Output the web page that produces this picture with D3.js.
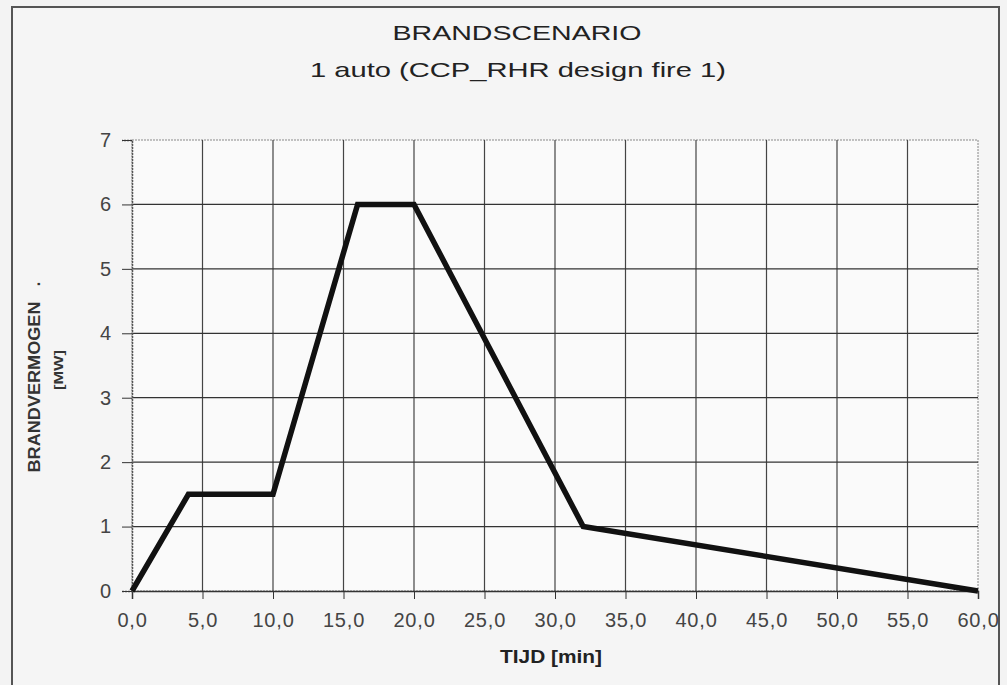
<!DOCTYPE html>
<html>
<head>
<meta charset="utf-8">
<script src="https://cdn.jsdelivr.net/npm/d3@7"></script>
<style>
    body { margin: 0; background: #f3f3f3; }
    text { font-family: "Liberation Sans", Arial, sans-serif; }
</style>
</head>
<body>
<div id="grafiek"></div>
<script>
// brandscenario: tijd [min] tegen brandvermogen [MW]
var tijd = [0, 4, 10, 16, 20, 32, 60];
var vermogen = [0, 1.5, 1.5, 6, 6, 1, 0];
var xTicks = [0, 5, 10, 15, 20, 25, 30, 35, 40, 45, 50, 55, 60];
var yTicks = [0, 1, 2, 3, 4, 5, 6, 7];

var data = tijd.map(function (t, i) {
    return {clave: t, valor: vermogen[i]};
});

var svg = d3.select("#grafiek").append("svg")
        .attr("width", 1007)
        .attr("height", 685);

var margin = {top: 140, right: 29, bottom: 94, left: 132};
var width = 1007 - margin.left - margin.right;
var height = 685 - margin.top - margin.bottom;

// kader om de hele grafiek
svg.append("rect")
        .attr("x", 12).attr("y", 7)
        .attr("width", 987).attr("height", 690)
        .attr("fill", "#f5f5f5")
        .attr("stroke", "#555")
        .attr("stroke-width", 2);

var g = svg.append("g").attr("transform", "translate(" + margin.left + "," + margin.top + ")");

var x = d3.scaleLinear().domain([0, 60]).range([0, width]);
var y = d3.scaleLinear().domain([0, 7]).range([height, 0]);

g.append("rect")
        .attr("width", width)
        .attr("height", height)
        .attr("fill", "#fafafa")
        .attr("stroke", "#888")
        .attr("stroke-dasharray", "2,1");

// rasterlijnen
g.append("g")
        .selectAll("line")
        .data(xTicks.slice(1, -1))
        .enter()
        .append("line")
        .attr("x1", function (d) { return x(d); })
        .attr("x2", function (d) { return x(d); })
        .attr("y1", 0)
        .attr("y2", height)
        .attr("stroke", "#444")
        .attr("stroke-width", 1.2);

g.append("g")
        .selectAll("line")
        .data(yTicks.slice(1, -1))
        .enter()
        .append("line")
        .attr("x1", 0)
        .attr("x2", width)
        .attr("y1", function (d) { return y(d); })
        .attr("y2", function (d) { return y(d); })
        .attr("stroke", "#333")
        .attr("stroke-width", 1.2);

// assen
var xAs = g.append("g")
        .attr("transform", "translate(0," + height + ")")
        .call(d3.axisBottom(x).tickValues(xTicks).tickSize(8).tickPadding(14)
                .tickFormat(function (d) { return d3.format(".1f")(d).replace(".", ","); }));
xAs.select(".domain").attr("stroke", "#333").attr("stroke-width", 1.5);
xAs.selectAll(".tick line").attr("stroke", "#333");
xAs.selectAll("text").attr("font-size", 20).attr("fill", "#444").attr("letter-spacing", 0.8);

var yAs = g.append("g")
        .call(d3.axisLeft(y).tickValues(yTicks).tickSize(10).tickPadding(11)
                .tickFormat(d3.format("d")));
yAs.select(".domain").attr("stroke", "#555").attr("stroke-width", 1.5).attr("stroke-dasharray", "2,1");
yAs.selectAll(".tick line").attr("stroke", "#333");
yAs.selectAll("text").attr("font-size", 20).attr("fill", "#444");

var line = d3.line()
        .x(function (d) { return x(d.clave); })
        .y(function (d) { return y(d.valor); });

g.append("path")
        .datum(data)
        .attr("fill", "none")
        .attr("stroke", "#111")
        .attr("stroke-width", 5.5)
        .attr("stroke-linejoin", "miter")
        .attr("d", line);

// titels
svg.append("text")
        .attr("x", 517).attr("y", 40)
        .attr("text-anchor", "middle")
        .attr("font-size", 21)
        .attr("fill", "#222")
        .attr("textLength", 249)
        .attr("lengthAdjust", "spacingAndGlyphs")
        .text("BRANDSCENARIO");
svg.append("text")
        .attr("x", 518).attr("y", 77)
        .attr("text-anchor", "middle")
        .attr("font-size", 21)
        .attr("fill", "#222")
        .attr("textLength", 416)
        .attr("lengthAdjust", "spacingAndGlyphs")
        .text("1 auto (CCP_RHR design fire 1)");

svg.append("text")
        .attr("transform", "translate(40,387) rotate(-90)")
        .attr("text-anchor", "middle")
        .attr("font-size", 16)
        .attr("font-weight", "bold")
        .attr("fill", "#333")
        .attr("textLength", 171)
        .attr("lengthAdjust", "spacingAndGlyphs")
        .text("BRANDVERMOGEN");
svg.append("text")
        .attr("transform", "translate(40,284) rotate(-90)")
        .attr("text-anchor", "middle")
        .attr("font-size", 16)
        .attr("font-weight", "bold")
        .attr("fill", "#333")
        .text(".");
svg.append("text")
        .attr("transform", "translate(63,370) rotate(-90)")
        .attr("text-anchor", "middle")
        .attr("font-size", 13)
        .attr("font-weight", "bold")
        .attr("fill", "#333")
        .attr("textLength", 40)
        .attr("lengthAdjust", "spacingAndGlyphs")
        .text("[MW]");

svg.append("text")
        .attr("x", 551).attr("y", 663)
        .attr("text-anchor", "middle")
        .attr("font-size", 19)
        .attr("font-weight", "bold")
        .attr("fill", "#222")
        .attr("textLength", 102)
        .attr("lengthAdjust", "spacingAndGlyphs")
        .text("TIJD [min]");
</script>
</body>
</html>
